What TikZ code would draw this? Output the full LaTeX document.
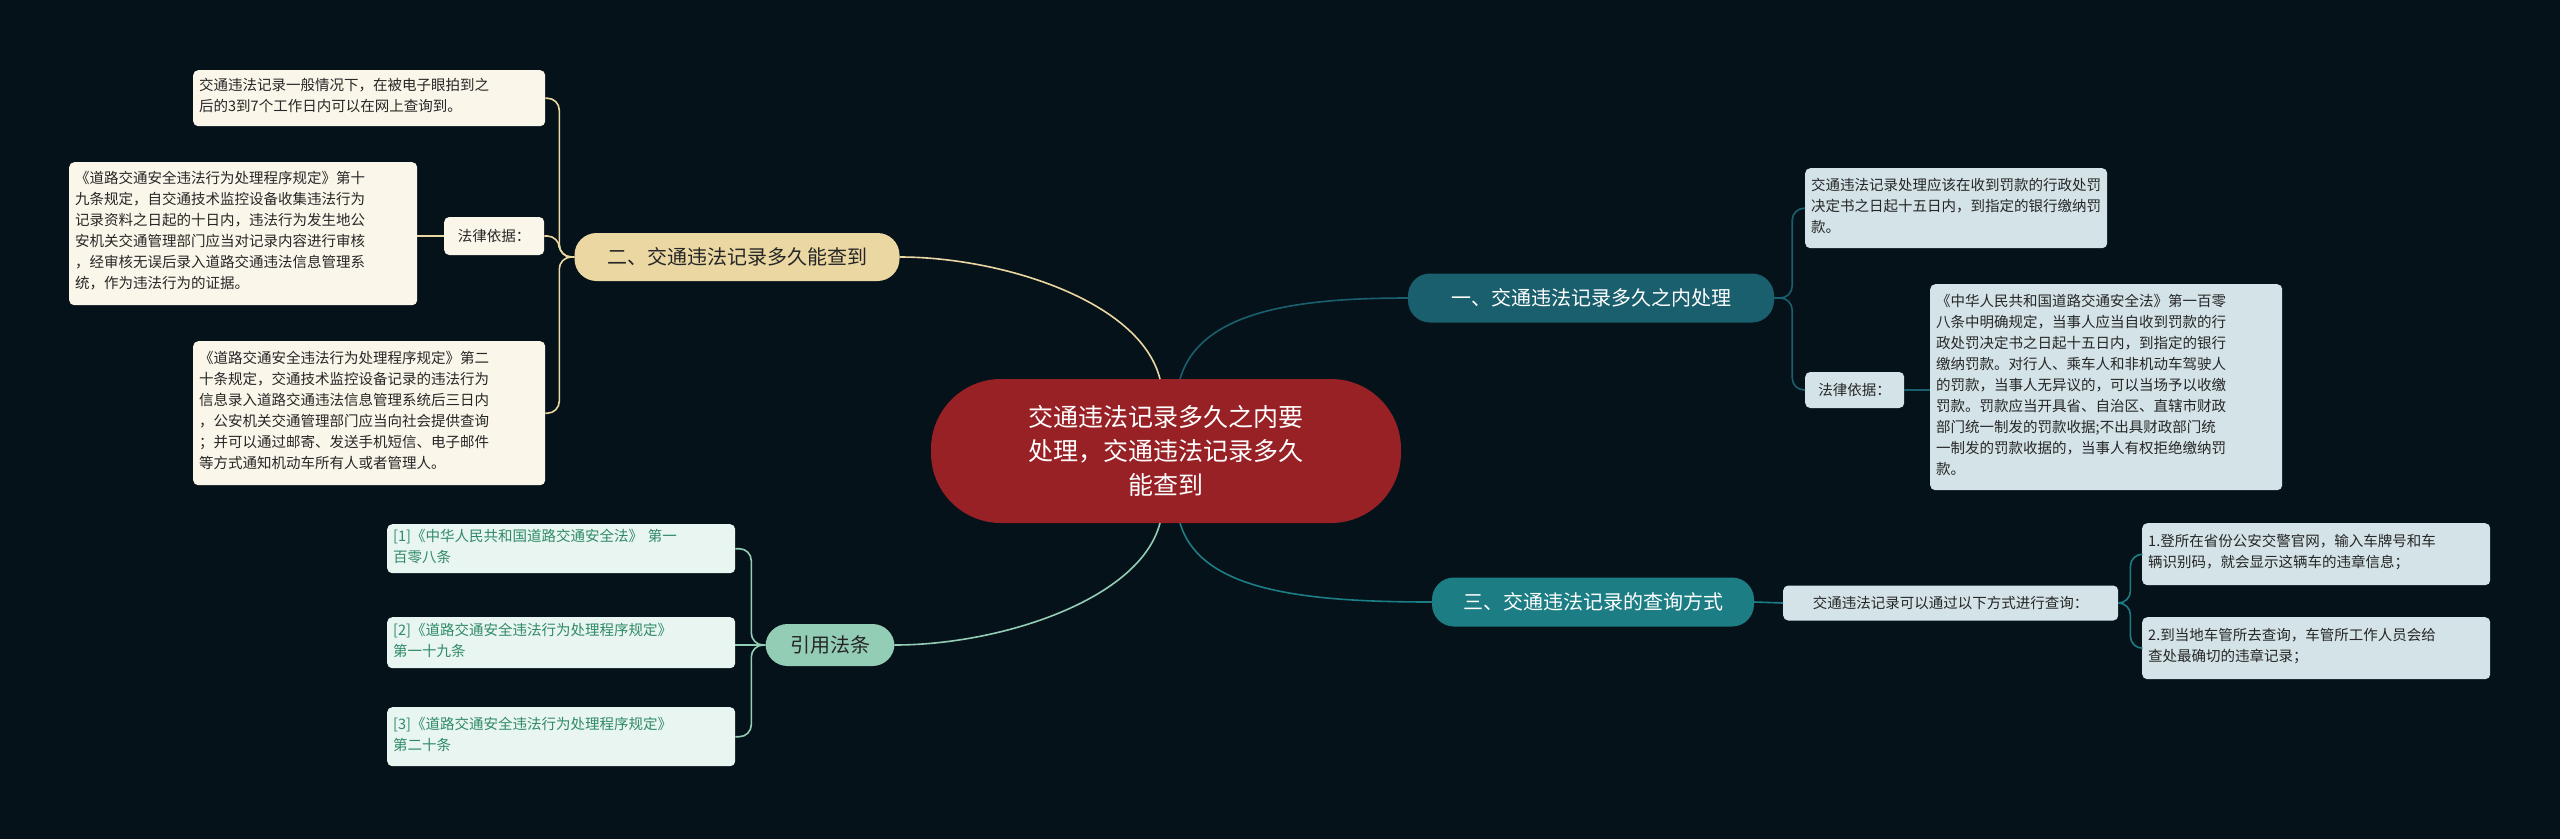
\documentclass[tikz,border=0pt]{standalone}
\usepackage{fontspec}
\setmainfont{Noto Sans CJK SC}
\definecolor{bg}{HTML}{06121A}
\definecolor{cred}{HTML}{982126}
\definecolor{tealA}{HTML}{1A5F6E}
\definecolor{tealB}{HTML}{1C7E84}
\definecolor{tan}{HTML}{EAD7A2}
\definecolor{mint}{HTML}{93CDB5}
\definecolor{lblue}{HTML}{D4E3E8}
\definecolor{cream}{HTML}{FBF6EA}
\definecolor{lmint}{HTML}{E9F5F0}
\definecolor{gtext}{HTML}{2F8A68}
\begin{document}
\begin{tikzpicture}[x=1pt,y=-1pt,
  leaf/.style={rounded corners=5pt,inner sep=0pt,font=\fontsize{14.5}{21}\selectfont,align=left,anchor=north west,text=black!85},
  br/.style={rounded corners=22pt,inner sep=0pt,font=\fontsize{20}{24}\selectfont},
  con/.style={line width=1.6pt}]
\fill[bg] (0,0) rectangle (2560,839);
% center
\node[fill=cred,rounded corners=70pt,minimum width=470pt,minimum height=144pt,text=white,align=center,font=\fontsize{25}{34}\selectfont] (c) at (1166,451) {交通违法记录多久之内要\\处理，交通违法记录多久\\能查到};
% branches
\node[br,fill=tealA,text=white,minimum width=366pt,minimum height=49pt] (b1) at (1591,298) {一、交通违法记录多久之内处理};
\node[br,fill=tan,text=black!85,minimum width=325pt,minimum height=48pt] (b2) at (737,257) {二、交通违法记录多久能查到};
\node[br,fill=tealB,text=white,minimum width=322pt,minimum height=49pt] (b4) at (1593,602) {三、交通违法记录的查询方式};
\node[br,fill=mint,text=black!85,minimum width=129pt,minimum height=42pt] (b3) at (830,645) {引用法条};
% branch 1 children
\node[leaf,fill=lblue,minimum width=298pt,minimum height=80pt,text width=290pt,inner xsep=6pt] (l11) at (1805,168) {\vphantom{}\\[-14pt]交通违法记录处理应该在收到罚款的行政处罚\\决定书之日起十五日内，到指定的银行缴纳罚\\款。};
\node[leaf,fill=lblue,minimum width=99pt,minimum height=36pt,anchor=west,inner xsep=6pt] (f1) at (1805,390) {法律依据：};
\node[leaf,fill=lblue,minimum width=350pt,minimum height=206pt,text width=340pt,inner xsep=6pt] (l12) at (1930,284) {\vphantom{}\\[-14pt]《中华人民共和国道路交通安全法》第一百零\\八条中明确规定，当事人应当自收到罚款的行\\政处罚决定书之日起十五日内，到指定的银行\\缴纳罚款。对行人、乘车人和非机动车驾驶人\\的罚款，当事人无异议的，可以当场予以收缴\\罚款。罚款应当开具省、自治区、直辖市财政\\部门统一制发的罚款收据;不出具财政部门统\\一制发的罚款收据的，当事人有权拒绝缴纳罚\\款。};
% branch 2 children
\node[leaf,fill=cream,minimum width=352pt,minimum height=56pt,text width=340pt,inner xsep=6pt] (l21) at (193,70) {\vphantom{}\\[-14pt]交通违法记录一般情况下，在被电子眼拍到之\\后的3到7个工作日内可以在网上查询到。};
\node[leaf,fill=cream,minimum width=100pt,minimum height=38pt,anchor=west,inner xsep=6pt] (f2) at (444,236) {法律依据：};
\node[leaf,fill=cream,minimum width=346pt,minimum height=143pt,text width=336pt,inner xsep=6pt] (l22) at (69,162) {\vphantom{}\\[-14pt]《道路交通安全违法行为处理程序规定》第十\\九条规定，自交通技术监控设备收集违法行为\\记录资料之日起的十日内，违法行为发生地公\\安机关交通管理部门应当对记录内容进行审核\\，经审核无误后录入道路交通违法信息管理系\\统，作为违法行为的证据。};
\node[leaf,fill=cream,minimum width=352pt,minimum height=144pt,text width=340pt,inner xsep=6pt] (l23) at (193,341) {\vphantom{}\\[-14pt]《道路交通安全违法行为处理程序规定》第二\\十条规定，交通技术监控设备记录的违法行为\\信息录入道路交通违法信息管理系统后三日内\\，公安机关交通管理部门应当向社会提供查询\\；并可以通过邮寄、发送手机短信、电子邮件\\等方式通知机动车所有人或者管理人。};
% branch 4 children
\node[leaf,fill=lblue,minimum width=335pt,minimum height=35pt,anchor=west,inner xsep=6pt] (m4) at (1783,603) {交通违法记录可以通过以下方式进行查询：};
\node[leaf,fill=lblue,minimum width=347pt,minimum height=62pt,text width=336pt,inner xsep=6pt] (l41) at (2142,523) {\vphantom{}\\[-14pt]1.登所在省份公安交警官网，输入车牌号和车\\辆识别码，就会显示这辆车的违章信息；};
\node[leaf,fill=lblue,minimum width=347pt,minimum height=62pt,text width=336pt,inner xsep=6pt] (l42) at (2142,617) {\vphantom{}\\[-14pt]2.到当地车管所去查询，车管所工作人员会给\\查处最确切的违章记录；};
% branch 3 children
\node[leaf,fill=lmint,text=gtext,minimum width=348pt,minimum height=49pt,text width=336pt,inner xsep=6pt] (r1) at (387,524) {\vphantom{}\\[-14pt][1]《中华人民共和国道路交通安全法》 第一\\百零八条};
\node[leaf,fill=lmint,text=gtext,minimum width=348pt,minimum height=51pt,text width=336pt,inner xsep=6pt] (r2) at (387,617) {\vphantom{}\\[-14pt][2]《道路交通安全违法行为处理程序规定》\\第一十九条};
\node[leaf,fill=lmint,text=gtext,minimum width=348pt,minimum height=59pt,text width=336pt,inner xsep=6pt] (r3) at (387,707) {\vphantom{}\\[-14pt][3]《道路交通安全违法行为处理程序规定》\\第二十条};
% main connectors
\begin{scope}[on background layer/.style={}]
\end{scope}
\draw[con,tealA] (1180,379) .. controls (1200,310) and (1300,298) .. (b1.west);
\draw[con,tan] (1160,379) .. controls (1140,300) and (1000,257) .. (b2.east);
\draw[con,tealB] (1180,523) .. controls (1200,590) and (1300,602) .. (b4.west);
\draw[con,mint] (1160,523) .. controls (1140,600) and (1000,645) .. (b3.east);
% sub connectors
\draw[con,tealA,rounded corners=12pt] (b1.east) -- ++(18,0) |- ([yshift=0pt]l11.west);
\draw[con,tealA,rounded corners=12pt] (b1.east) -- ++(18,0) |- (f1.west);
\draw[con,tealA] (f1.east) -- (f1.east -| l12.west);
\draw[con,tan,rounded corners=12pt] (b2.west) -- ++(-15,0) |- (l21.east);
\draw[con,tan,rounded corners=12pt] (b2.west) -- ++(-15,0) |- (f2.east);
\draw[con,tan,rounded corners=12pt] (b2.west) -- ++(-15,0) |- (l23.east);
\draw[con,tan] (f2.west) -- (f2.west -| l22.east);
\draw[con,tealB] (b4.east) -- (m4.west);
\draw[con,tealB,rounded corners=12pt] (m4.east) -- ++(12,0) |- (l41.west);
\draw[con,tealB,rounded corners=12pt] (m4.east) -- ++(12,0) |- (l42.west);
\draw[con,mint,rounded corners=12pt] (b3.west) -- ++(-14,0) |- (r1.east);
\draw[con,mint] (b3.west) -- (b3.west -| r2.east);
\draw[con,mint,rounded corners=12pt] (b3.west) -- ++(-14,0) |- (r3.east);
\end{tikzpicture}
\end{document}
